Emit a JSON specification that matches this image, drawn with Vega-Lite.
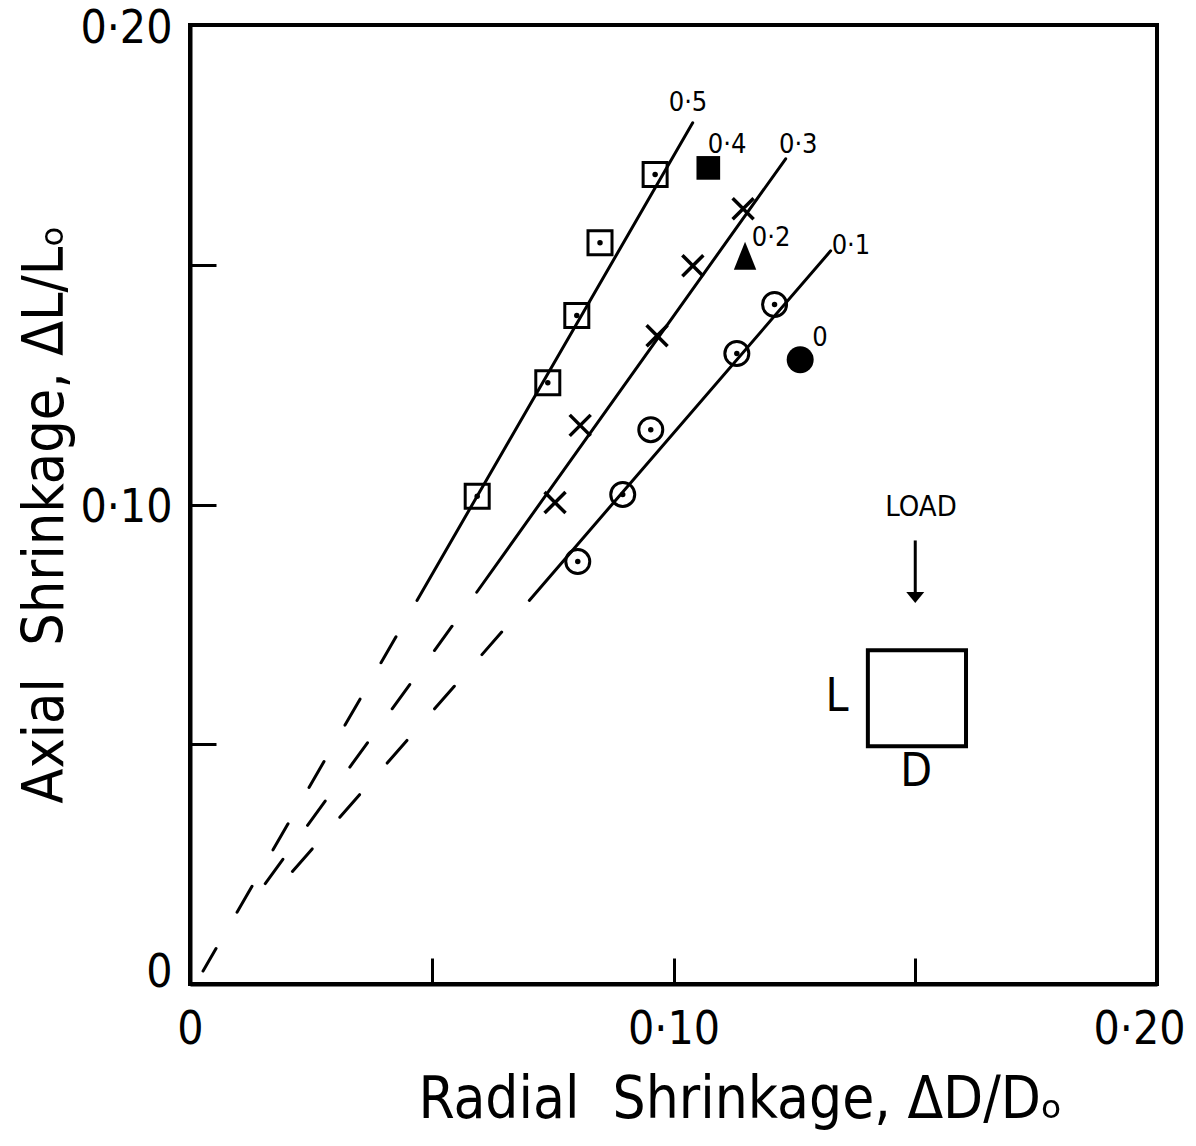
{
  "$schema": "https://vega.github.io/schema/vega-lite/v6.json",
  "width": 967,
  "height": 959,
  "autosize": {"type": "none"},
  "padding": {"left": 190, "top": 25, "right": 39, "bottom": 162},
  "background": "white",
  "config": {
    "view": {"stroke": "black", "strokeWidth": 4},
    "font": "DejaVu Sans Condensed, DejaVu Sans"
  },
  "datasets": {
    "dash": [
      {"g": "0.5", "o": 0, "x": 0.04695, "y": 0.0800},
      {"g": "0.5", "o": 1, "x": 0.0027, "y": 0.0027},
      {"g": "0.3", "o": 0, "x": 0.0593, "y": 0.0817},
      {"g": "0.3", "o": 1, "x": 0.0110, "y": 0.0146},
      {"g": "0.1", "o": 0, "x": 0.07018, "y": 0.0800},
      {"g": "0.1", "o": 1, "x": 0.0155, "y": 0.0169}
    ],
    "lines": [
      {"g": "0.5", "x": 0.04695, "y": 0.0800},
      {"g": "0.5", "x": 0.10397, "y": 0.1796},
      {"g": "0.3", "x": 0.0593, "y": 0.0817},
      {"g": "0.3", "x": 0.1232, "y": 0.1721},
      {"g": "0.1", "x": 0.07018, "y": 0.0800},
      {"g": "0.1", "x": 0.13251, "y": 0.1529}
    ],
    "pts": [
      {"s": "0.5", "x": 0.0594, "y": 0.1017},
      {"s": "0.5", "x": 0.0740, "y": 0.1254},
      {"s": "0.5", "x": 0.0800, "y": 0.1394},
      {"s": "0.5", "x": 0.0848, "y": 0.1546},
      {"s": "0.5", "x": 0.0962, "y": 0.1688},
      {"s": "0.4", "x": 0.1072, "y": 0.1702},
      {"s": "0.3", "x": 0.0755, "y": 0.1004},
      {"s": "0.3", "x": 0.0807, "y": 0.1165},
      {"s": "0.3", "x": 0.0966, "y": 0.1352},
      {"s": "0.3", "x": 0.1040, "y": 0.1498},
      {"s": "0.3", "x": 0.1144, "y": 0.1617},
      {"s": "0.2", "x": 0.1148, "y": 0.1519},
      {"s": "0.1", "x": 0.0802, "y": 0.0881},
      {"s": "0.1", "x": 0.0895, "y": 0.1021},
      {"s": "0.1", "x": 0.0953, "y": 0.1156},
      {"s": "0.1", "x": 0.1131, "y": 0.1315},
      {"s": "0.1", "x": 0.1209, "y": 0.1417},
      {"s": "0", "x": 0.1262, "y": 0.1302}
    ],
    "labels": [
      {"t": "0·5", "x": 0.1030, "y": 0.1838},
      {"t": "0·4", "x": 0.1111, "y": 0.1750},
      {"t": "0·3", "x": 0.1258, "y": 0.1750},
      {"t": "0·2", "x": 0.1202, "y": 0.1556},
      {"t": "0·1", "x": 0.1367, "y": 0.1540},
      {"t": "0", "x": 0.1303, "y": 0.1348}
    ]
  },
  "encoding": {
    "x": {
      "field": "x",
      "type": "quantitative",
      "scale": {"domain": [0, 0.2], "nice": false, "zero": false},
      "axis": {
        "values": [0, 0.05, 0.1, 0.15, 0.2],
        "labelExpr": "datum.value == 0 ? '0' : (abs(datum.value - 0.1) < 0.001 ? '0·10' : (abs(datum.value - 0.2) < 0.001 ? '0·20' : ''))",
        "tickSize": -26,
        "tickWidth": 3,
        "tickColor": "black",
        "domainColor": "black",
        "domainWidth": 4,
        "grid": false,
        "labelFontSize": 46,
        "labelColor": "black",
        "labelPadding": 49,
        "labelOffset": {"condition": {"test": "datum.value > 0.19", "value": -18}, "value": 0},
        "labelFlush": false,
        "labelOverlap": false,
        "title": "Radial\u00a0\u00a0Shrinkage, ΔD/Dₒ",
        "titleFontSize": 58,
        "titleFontWeight": "normal",
        "titleColor": "black",
        "titleX": 550,
        "titleY": 133,
        "titleAlign": "center",
        "titleBaseline": "alphabetic"
      }
    },
    "y": {
      "field": "y",
      "type": "quantitative",
      "scale": {"domain": [0, 0.2], "nice": false, "zero": false},
      "axis": {
        "values": [0, 0.05, 0.1, 0.15, 0.2],
        "labelExpr": "datum.value == 0 ? '0' : (abs(datum.value - 0.1) < 0.001 ? '0·10' : (abs(datum.value - 0.2) < 0.001 ? '0·20' : ''))",
        "tickSize": -26,
        "tickWidth": 3,
        "tickColor": "black",
        "domainColor": "black",
        "domainWidth": 4,
        "grid": false,
        "labelFontSize": 46,
        "labelColor": "black",
        "labelPadding": 44,
        "labelOffset": {"condition": {"test": "datum.value < 0.01", "value": -12}, "value": 3},
        "labelFlush": false,
        "labelOverlap": false,
        "title": "Axial\u00a0\u00a0Shrinkage, ΔL/Lₒ",
        "titleFontSize": 57,
        "titleFontWeight": "normal",
        "titleColor": "black",
        "titleAngle": -90,
        "titleX": -128,
        "titleY": 489,
        "titleAlign": "center",
        "titleBaseline": "alphabetic"
      }
    }
  },
  "layer": [
    {
      "data": {"name": "dash"},
      "mark": {"type": "line", "color": "black", "strokeWidth": 3, "strokeDash": [30, 42], "strokeDashOffset": 30, "strokeCap": "round"},
      "encoding": {"detail": {"field": "g"}, "order": {"field": "o"}}
    },
    {
      "data": {"name": "lines"},
      "mark": {"type": "line", "color": "black", "strokeWidth": 3, "strokeCap": "round"},
      "encoding": {"detail": {"field": "g"}}
    },
    {
      "data": {"name": "pts"},
      "transform": [{"filter": "datum.s == '0.5'"}],
      "mark": {"type": "point", "shape": "square", "size": 576, "filled": false, "color": "black", "strokeWidth": 3, "opacity": 1}
    },
    {
      "data": {"name": "pts"},
      "transform": [{"filter": "datum.s == '0.1'"}],
      "mark": {"type": "point", "shape": "circle", "size": 576, "filled": false, "color": "black", "strokeWidth": 3, "opacity": 1}
    },
    {
      "data": {"name": "pts"},
      "transform": [{"filter": "datum.s == '0.5' || datum.s == '0.1'"}],
      "mark": {"type": "point", "shape": "circle", "size": 30, "filled": true, "color": "black", "opacity": 1}
    },
    {
      "data": {"name": "pts"},
      "transform": [{"filter": "datum.s == '0.3'"}],
      "mark": {"type": "point", "shape": "M-1,-1L1,1M-1,1L1,-1", "size": 441, "filled": false, "color": "black", "strokeWidth": 3.5, "opacity": 1}
    },
    {
      "data": {"name": "pts"},
      "transform": [{"filter": "datum.s == '0.4'"}],
      "mark": {"type": "point", "shape": "square", "size": 560, "filled": true, "color": "black", "opacity": 1}
    },
    {
      "data": {"name": "pts"},
      "transform": [{"filter": "datum.s == '0.2'"}],
      "mark": {"type": "point", "shape": "M0,-1L-0.8,1L0.8,1Z", "size": 784, "filled": true, "color": "black", "opacity": 1}
    },
    {
      "data": {"name": "pts"},
      "transform": [{"filter": "datum.s == '0'"}],
      "mark": {"type": "point", "shape": "circle", "size": 729, "filled": true, "color": "black", "opacity": 1}
    },
    {
      "data": {"name": "labels"},
      "mark": {"type": "text", "fontSize": 27, "color": "black", "align": "center", "baseline": "middle"},
      "encoding": {"text": {"field": "t"}}
    },
    {
      "data": {"values": [{"x": 0.1402, "x2": 0.1605, "y": 0.0496, "y2": 0.0696}]},
      "mark": {"type": "rect", "fill": null, "fillOpacity": 0, "stroke": "black", "strokeWidth": 4},
      "encoding": {"x2": {"field": "x2"}, "y2": {"field": "y2"}}
    },
    {
      "data": {"values": [{"x": 0.1500, "y": 0.0925, "y2": 0.0812}]},
      "mark": {"type": "rule", "color": "black", "strokeWidth": 3},
      "encoding": {"y2": {"field": "y2"}}
    },
    {
      "data": {"values": [{"x": 0.1500, "y": 0.0806}]},
      "mark": {"type": "point", "shape": "M-1,-0.6L0,0.6L1,-0.6Z", "size": 324, "filled": true, "color": "black", "opacity": 1}
    },
    {
      "data": {"values": [{"t": "LOAD", "x": 0.1512, "y": 0.0994}]},
      "mark": {"type": "text", "fontSize": 29, "color": "black", "align": "center", "baseline": "middle"},
      "encoding": {"text": {"field": "t"}}
    },
    {
      "data": {"values": [{"t": "L", "x": 0.1338, "y": 0.0598}, {"t": "D", "x": 0.1502, "y": 0.0442}]},
      "mark": {"type": "text", "fontSize": 46, "color": "black", "align": "center", "baseline": "middle"},
      "encoding": {"text": {"field": "t"}}
    }
  ]
}
